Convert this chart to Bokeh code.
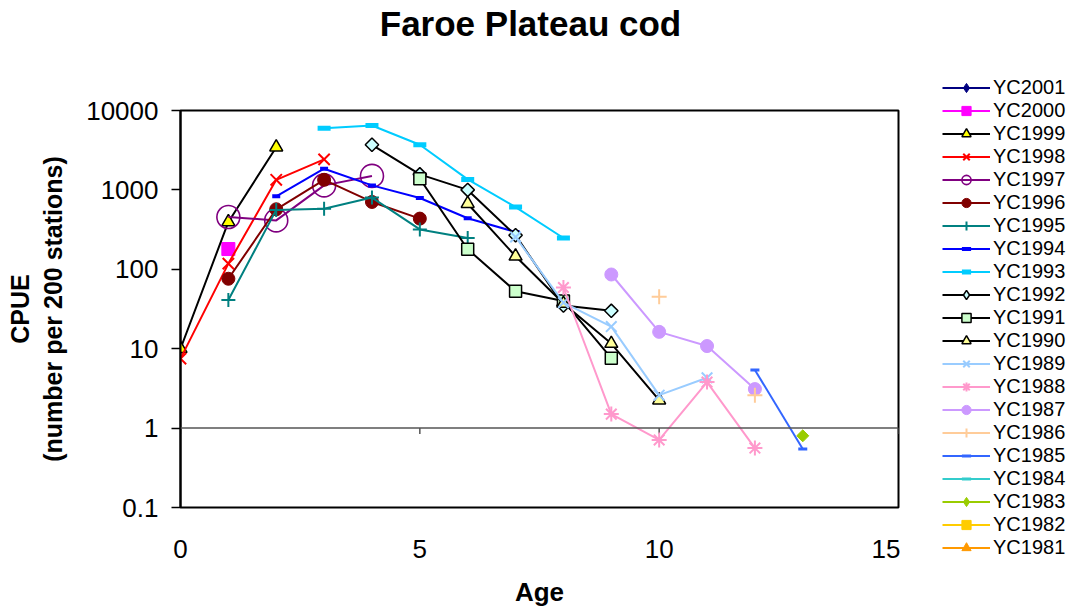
import math
from bokeh.plotting import figure
from bokeh.layouts import row, column
from bokeh.models import (Range1d, FixedTicker, Span, Legend, LegendItem,
                          ColumnDataSource, Label)
from bokeh.embed import file_html
from bokeh.resources import INLINE

FONT = "Liberation Sans"
nan = float("nan")

# CPUE (number per 200 stations) by age for each year class
age_yc2001 = []
cpue_yc2001 = []
age_yc2000 = [1]
cpue_yc2000 = [180]
age_yc1999 = [0, 1, 2]
cpue_yc1999 = [10, 395, 3450]
age_yc1998 = [0, 1, 2, 3]
cpue_yc1998 = [7.5, 118, 1340, 2420]
age_yc1997 = [1, 2, 3, 4]
cpue_yc1997 = [455, 413, 1140, 1500]
age_yc1996 = [1, 2, 3, 4, 5]
cpue_yc1996 = [76, 570, 1340, 705, 435]
age_yc1995 = [1, 2, 3, 4, 5, 6]
cpue_yc1995 = [41, 560, 580, 800, 318, 248]
age_yc1994 = [2, 3, 4, 5, 6, 7]
cpue_yc1994 = [830, 1850, 1140, 790, 440, 295]
age_yc1993 = [3, 4, 5, 6, 7, 8]
cpue_yc1993 = [5990, 6480, 3700, 1355, 608, 248]
age_yc1992 = [4, 5, 6, 7, 8, 9]
cpue_yc1992 = [3700, 1570, 1000, 268, 35, 30]
age_yc1991 = [5, 6, 7, 8, 9]
cpue_yc1991 = [1380, 179, 53, 40, 7.6]
age_yc1990 = [6, 7, 8, 9, 10]
cpue_yc1990 = [670, 146, 37, 11.6, 2.25]
age_yc1989 = [7, 8, 9, 10, 11]
cpue_yc1989 = [255, 38, 19, 2.6, 4.3]
age_yc1988 = [8, 9, 10, 11, 12]
cpue_yc1988 = [59, 1.5, 0.71, 3.8, 0.56]
age_yc1987 = [9, 10, 11, 12]
cpue_yc1987 = [86, 16.3, 10.8, 3.1]
age_yc1986 = [10, 11, 12]
cpue_yc1986 = [45, nan, 2.6]
age_yc1985 = [12, 13]
cpue_yc1985 = [5.4, 0.545]
age_yc1984 = []
cpue_yc1984 = []
age_yc1983 = [13]
cpue_yc1983 = [0.8]
age_yc1982 = []
cpue_yc1982 = []
age_yc1981 = []
cpue_yc1981 = []

x_ticks = [0, 5, 10, 15]
y_ticks = [0.1, 1, 10, 100, 1000, 10000]
y_tick_labels = ["0.1", "1", "10", "100", "1000", "10000"]

# (label, ages, values, line colour, marker, fill, marker outline, size, key size, marker line width)
# "diamond" in the chart is drawn as a square turned by 45 degrees
series = [
    ("YC2001", age_yc2001, cpue_yc2001, "#000080", "diamond", "#000080", "#000080", 10, 14, 1),
    ("YC2000", age_yc2000, cpue_yc2000, "#FF00FF", "square", "#FF00FF", "#FF00FF", 13, 12, 1),
    ("YC1999", age_yc1999, cpue_yc1999, "#000000", "triangle", "#FFFF00", "#000000", 13, 12, 1.5),
    ("YC1998", age_yc1998, cpue_yc1998, "#FF0000", "x", None, "#FF0000", 16, 15, 2),
    ("YC1997", age_yc1997, cpue_yc1997, "#800080", "circle", None, "#800080", 23, 11, 1.6),
    ("YC1996", age_yc1996, cpue_yc1996, "#800000", "circle", "#800000", "#800000", 13, 12, 1),
    ("YC1995", age_yc1995, cpue_yc1995, "#008080", "cross", None, "#008080", 14, 14, 2),
    ("YC1994", age_yc1994, cpue_yc1994, "#0000FF", "dash", None, "#0000FF", 8, 8, 4),
    ("YC1993", age_yc1993, cpue_yc1993, "#00CCFF", "dash", None, "#00CCFF", 13, 12, 5),
    ("YC1992", age_yc1992, cpue_yc1992, "#000000", "diamond", "#CCFFFF", "#000000", 9.5, 13, 1.5),
    ("YC1991", age_yc1991, cpue_yc1991, "#000000", "square", "#CCFFCC", "#000000", 12, 12, 1.5),
    ("YC1990", age_yc1990, cpue_yc1990, "#000000", "triangle", "#FFFF99", "#000000", 13, 12, 1.5),
    ("YC1989", age_yc1989, cpue_yc1989, "#99CCFF", "x", None, "#99CCFF", 15, 15, 2),
    ("YC1988", age_yc1988, cpue_yc1988, "#FF99CC", "asterisk", None, "#FF99CC", 15, 15, 2),
    ("YC1987", age_yc1987, cpue_yc1987, "#CC99FF", "circle", "#CC99FF", "#CC99FF", 13, 13, 1),
    ("YC1986", age_yc1986, cpue_yc1986, "#FFCC99", "cross", None, "#FFCC99", 15, 15, 2),
    ("YC1985", age_yc1985, cpue_yc1985, "#3366FF", "dash", None, "#3366FF", 9, 9, 3),
    ("YC1984", age_yc1984, cpue_yc1984, "#33CCCC", "dash", None, "#33CCCC", 9, 9, 3),
    ("YC1983", age_yc1983, cpue_yc1983, "#99CC00", "diamond", "#99CC00", "#99CC00", 8.5, 15, 1),
    ("YC1982", age_yc1982, cpue_yc1982, "#FFCC00", "square", "#FFCC00", "#FFCC00", 13, 13, 1),
    ("YC1981", age_yc1981, cpue_yc1981, "#FF9900", "triangle", "#FF9900", "#FF9900", 15, 15, 1),
]


def bare_figure(w, h, xr=None):
    f = figure(width=w, height=h, x_range=xr or Range1d(0, w), y_range=Range1d(0, h),
               x_axis_location=None, y_axis_location=None,
               output_backend="svg", toolbar_location=None, min_border=0)
    f.outline_line_color = None
    f.xgrid.visible = False
    f.ygrid.visible = False
    f.background_fill_color = "white"
    f.border_fill_color = "white"
    return f


# title strip; its frame lines up with the chart frame below (page x 180..898)
head = bare_figure(900, 50, xr=Range1d(180, 898))
head.add_layout(Label(x=530, y=27, text="Faroe Plateau cod", text_font=FONT,
                      text_font_size="35px", text_font_style="bold",
                      text_align="center", text_baseline="middle", text_color="black"))

# main chart
p = figure(width=900, height=561, y_axis_type="log",
           x_range=Range1d(0, 15), y_range=Range1d(0.1, 10000),
           output_backend="svg", toolbar_location=None,
           min_border_left=180, min_border_right=2,
           min_border_top=60, min_border_bottom=104)

p.background_fill_color = "white"
p.border_fill_color = "white"
p.outline_line_color = "black"
p.outline_line_width = 2
p.xgrid.visible = False
p.ygrid.visible = False

xa = p.xaxis[0]
xa.ticker = FixedTicker(ticks=x_ticks)
xa.axis_line_color = None
xa.major_tick_line_color = None
xa.minor_tick_line_color = None
xa.major_label_text_font = FONT
xa.major_label_text_font_size = "26px"
xa.major_label_text_color = "black"
xa.major_label_standoff = 26
xa.axis_label = "Age"
xa.axis_label_text_font = FONT
xa.axis_label_text_font_size = "26px"
xa.axis_label_text_font_style = "bold"
xa.axis_label_text_color = "black"
xa.axis_label_standoff = 16

ya = p.yaxis[0]
ya.ticker = FixedTicker(ticks=y_ticks)
ya.major_label_overrides = {t: s for t, s in zip(y_ticks, y_tick_labels)}
ya.axis_line_color = "black"
ya.axis_line_width = 2
ya.major_tick_line_color = "black"
ya.major_tick_line_width = 1.5
ya.major_tick_out = 9
ya.major_tick_in = 0
ya.minor_tick_line_color = None
ya.major_label_text_font = FONT
ya.major_label_text_font_size = "26px"
ya.major_label_text_color = "black"
ya.major_label_standoff = 13
ya.axis_label = "CPUE\n(number per 200 stations)"
ya.axis_label_text_font = FONT
ya.axis_label_text_font_size = "25px"
ya.axis_label_text_font_style = "bold"
ya.axis_label_text_color = "black"
ya.axis_label_standoff = 16

# category axis crossing at CPUE = 1, with its tick marks
p.add_layout(Span(location=1, dimension="width", line_color="#555555", line_width=1.5))
tick_src = ColumnDataSource(dict(x=x_ticks, y0=[1] * len(x_ticks), y1=[0.84] * len(x_ticks)))
p.segment(x0="x", y0="y0", x1="x", y1="y1", source=tick_src, line_color="#555555", line_width=1.5)

# legend strip, full height
side = bare_figure(175, 611)
items = []
for (label, ages, vals, lc, marker, fill, mline, size, ksize, mlw) in series:
    src = ColumnDataSource(dict(age=ages, cpue=vals))
    style = dict(line_color=mline, line_width=mlw, fill_color=fill if fill else None)
    p.line("age", "cpue", source=src, line_color=lc, line_width=2)
    if marker == "diamond":
        p.scatter("age", "cpue", source=src, marker="square", angle=math.pi / 4,
                  size=size, **style)
    else:
        p.scatter("age", "cpue", source=src, marker=marker, size=size, **style)
    # legend key: line and marker with no visible points
    key_src = ColumnDataSource(dict(x=[nan], y=[nan]))
    kl = side.line("x", "y", source=key_src, line_color=lc, line_width=2)
    km = side.scatter("x", "y", source=key_src, marker=marker, size=ksize, **style)
    items.append(LegendItem(label=label, renderers=[kl, km]))

legend = Legend(items=items, location=(42, 52),
                label_text_font=FONT, label_text_font_size="20px",
                label_text_color="black",
                glyph_width=48, glyph_height=23, label_height=23,
                spacing=0, padding=0, margin=0, label_standoff=3,
                background_fill_alpha=0, border_line_alpha=0)
side.add_layout(legend, "center")

layout = row(column(head, p, spacing=0), side, spacing=0)
open("out.html", "w").write(file_html(layout, INLINE))
